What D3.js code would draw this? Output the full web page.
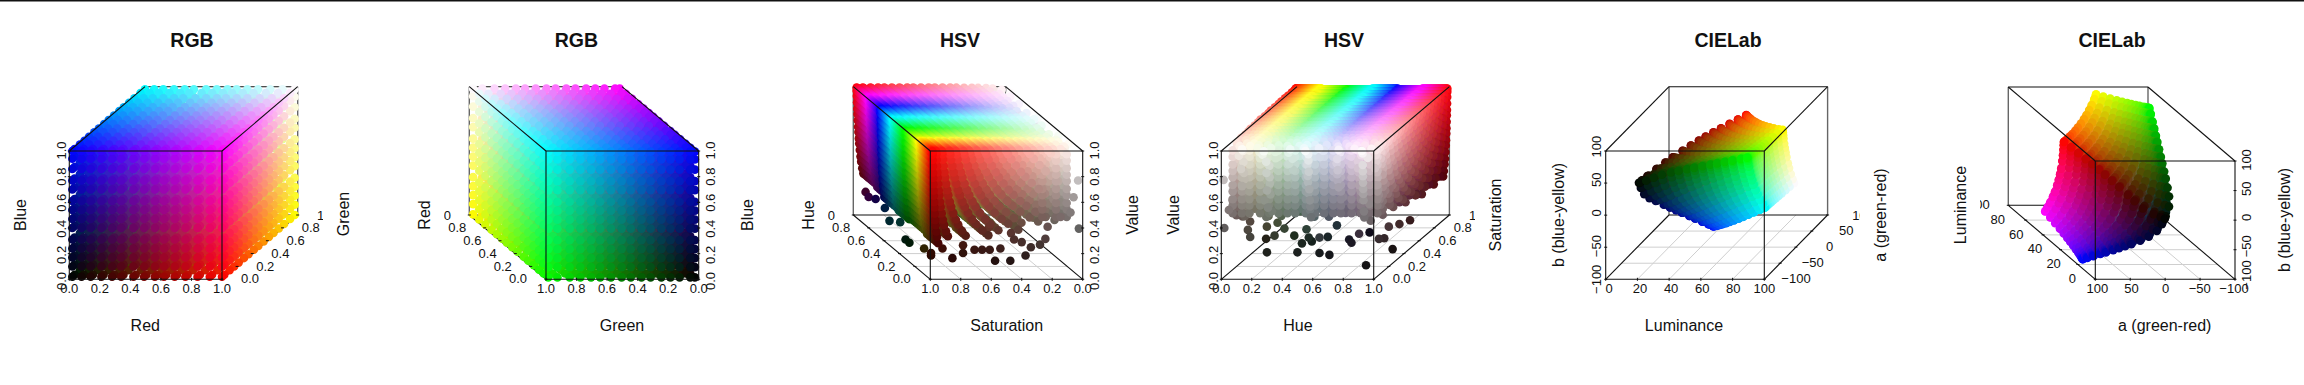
<!DOCTYPE html>
<html>
<head>
<meta charset="utf-8">
<script src="https://cdn.jsdelivr.net/npm/d3@7"></script>
<style>
html, body { margin: 0; padding: 0; background: #fff; overflow: hidden; }
text { font-family: "Liberation Sans", Arial, sans-serif; fill: #111; }
</style>
</head>
<body>
<div id="chart"></div>
<script>
// The packed dots of the reference can't be read one by one, so those clouds are
// estimates: every combination of these hand picked levels.
const reds = [0.01, 0.07, 0.13, 0.2, 0.27, 0.33, 0.41, 0.48, 0.55, 0.61, 0.68, 0.75, 0.83, 0.91, 0.99]
const greens = [0.02, 0.05, 0.12, 0.18, 0.24, 0.31, 0.37, 0.44, 0.5, 0.57, 0.64, 0.7, 0.77, 0.84, 0.92, 0.98]
const blues = [0.01, 0.09, 0.16, 0.23, 0.3, 0.39, 0.46, 0.53, 0.6, 0.69, 0.76, 0.85, 0.93, 0.99]

// finer levels for the HSV clouds, where the same colours spread out more
const fineReds = [0.01, 0.05, 0.1, 0.14, 0.19, 0.23, 0.28, 0.33, 0.37, 0.42, 0.46, 0.51, 0.56, 0.6, 0.65, 0.69, 0.74, 0.79, 0.83, 0.88, 0.93, 0.97, 0.995]
const fineGreens = [0.02, 0.06, 0.11, 0.16, 0.2, 0.25, 0.3, 0.35, 0.39, 0.44, 0.49, 0.53, 0.58, 0.63, 0.67, 0.72, 0.77, 0.81, 0.86, 0.9, 0.95, 0.985]
const fineBlues = [0.015, 0.04, 0.08, 0.13, 0.17, 0.22, 0.26, 0.31, 0.36, 0.4, 0.45, 0.5, 0.54, 0.59, 0.64, 0.68, 0.73, 0.78, 0.82, 0.87, 0.91, 0.96, 0.99]

// lowest value where the HSV cloud is still packed, at saturation 0 and 1
const packedFloor = [0.42, 0.27]

// pale tinted dots that fill the low saturation front of the HSV cloud
const paleHues = [0.03, 0.09, 0.14, 0.21, 0.27, 0.33, 0.39, 0.44, 0.51, 0.57, 0.63, 0.69, 0.74, 0.81, 0.87, 0.93, 0.98]
const paleSats = [0.09, 0.16, 0.25]
const paleVals = [0.47, 0.53, 0.58, 0.64, 0.69, 0.75, 0.8, 0.85, 0.91, 0.96]

// the sparse dark dots can be seen singly, read as [hue, saturation, value]
const darkDotsSatView = [
	[0.88, 0.98, 0.24], [0.8, 1, 0.24], [0.71, 1, 0.27], [0.59, 1, 0.26], [0.53, 1, 0.19], [0.49, 0.95, 0.2],
	[0.42, 0.95, 0.1], [0.37, 0.95, 0.1], [0.12, 0.98, 0.18], [0.03, 0.98, 0.17], [0.03, 0.98, 0.19], [0.02, 0.91, 0.23],
	[0.01, 0.85, 0.16], [0.03, 0.77, 0.19], [0.03, 0.77, 0.25], [0.02, 0.7, 0.22], [0.02, 0.65, 0.22], [0.02, 0.6, 0.22],
	[0.03, 0.6, 0.39], [0.01, 0.57, 0.14], [0.01, 0.47, 0.14], [0.01, 0.37, 0.18], [0.02, 0.53, 0.23], [0.02, 0.33, 0.24],
	[0.02, 0.27, 0.26], [0.01, 0.24, 0.31], [0.02, 0.22, 0.4], [0.01, 0.02, 0.39], [0.01, 0.14, 0.48], [0.02, 0.07, 0.51],
	[0.02, 0.05, 0.63], [0.02, 0.02, 0.76], [0.02, 0.46, 0.35], [0.02, 0.39, 0.28], [0.02, 0.44, 0.3]
]
const darkDotsHueView = [
	[0.0, 0.04, 0.38], [0.01, 0.08, 0.5], [0.02, 0.16, 0.42], [0.05, 0.18, 0.4], [0.09, 0.17, 0.3], [0.13, 0.12, 0.27],
	[0.12, 0.35, 0.14], [0.22, 0.16, 0.13], [0.24, 0.22, 0.23], [0.32, 0.32, 0.18], [0.4, 0.26, 0.15], [0.42, 0.16, 0.13],
	[0.43, 0.33, 0.13], [0.55, 0.19, 0.11], [0.62, 0.18, 0.1], [0.56, 0.17, 0.24], [0.53, 0.34, 0.16], [0.67, 0.34, 0.14],
	[0.71, 0.29, 0.14], [0.79, 0.23, 0.24], [0.71, 0.53, 0.1], [0.94, 0.19, 0.22], [0.95, 0.24, 0.2], [0.99, 0.27, 0.1],
	[0.92, 0.06, 0.08], [0.0, 0.03, 0.76], [0.01, 0.13, 0.55], [0.16, 0.28, 0.27], [0.29, 0.25, 0.27], [0.42, 0.28, 0.25],
	[0.56, 0.4, 0.22], [0.97, 0.26, 0.28], [0.99, 0.36, 0.25], [0.99, 0.5, 0.21], [0.23, 0.28, 0.3], [0.42, 0.31, 0.17],
	[0.07, 0.24, 0.33]
]

const unitTicks = [0, 0.2, 0.4, 0.6, 0.8, 1]
const lumTicks = [0, 20, 40, 60, 80, 100]
const labTicks = [-100, -50, 0, 50, 100]

const svgWidth = 2304
const svgHeight = 385

function toHsv(r, g, b){
	const max = Math.max(r, g, b)
	const c = max - Math.min(r, g, b)
	let h = 0
	if(c > 0){
		if(max === r) h = ((g - b) / c + 6) % 6
		else if(max === g) h = (b - r) / c + 2
		else h = (r - g) / c + 4
	}
	return { h: h / 6, s: max === 0 ? 0 : c / max, v: max }
}

function hsvColor(h, s, v){
	const f = n => {
		const k = (n + h * 6) % 6
		return (v - v * s * Math.max(0, Math.min(k, 4 - k, 1))) * 255
	}
	return d3.rgb(f(5), f(3), f(1)).formatHex()
}

// sRGB to Lab against D65, d3.lab adapts to D50 and lands a bit off the reference
function toLab(r, g, b){
	const lin = c => c <= 0.04045 ? c / 12.92 : Math.pow((c + 0.055) / 1.055, 2.4)
	const [R, G, B] = [lin(r), lin(g), lin(b)]
	const f = t => t > 0.008856 ? Math.cbrt(t) : 7.787 * t + 16 / 116
	const fx = f((0.4124 * R + 0.3576 * G + 0.1805 * B) / 0.9505)
	const fy = f(0.2126 * R + 0.7152 * G + 0.0722 * B)
	const fz = f((0.0193 * R + 0.1192 * G + 0.9505 * B) / 1.089)
	return { l: 116 * fy - 16, a: 500 * (fx - fy), b: 200 * (fy - fz) }
}

const rgbPoints = d3.cross(d3.cross(reds, greens), blues).map(([[r, g], b]) => ({
	r, g, b,
	color: d3.rgb(r * 255, g * 255, b * 255).formatHex(),
	lab: toLab(r, g, b)
}))

const hsvPoint = ([h, s, v]) => ({ h, s, v, color: hsvColor(h, s, v) })
const floorAt = d3.scaleLinear().domain([0, 1]).range(packedFloor)
const hsvCloud = d3.cross(d3.cross(fineReds, fineGreens), fineBlues)
	.map(([[r, g], b]) => toHsv(r, g, b))
	.filter(d => d.v >= floorAt(d.s))
	.map(d => [d.h, d.s, d.v])
	.concat(d3.cross(d3.cross(paleHues, paleSats), paleVals).map(([[h, s], v]) => [h, s, v]))

const unitFmt = d3.format(".1f")
const intFmt = d3.format("d")

const panels = [
	{ title: "RGB", cx: 192, pts: rgbPoints, x: d => d.r, y: d => d.g, z: d => d.b,
		xDom: [0, 1], yDom: [0, 1], zDom: [0, 1], xT: unitTicks, yT: unitTicks, zT: unitTicks, fx: unitFmt, fy: unitFmt, fz: unitFmt,
		box: [69.3, 222, 151, 279.3, 75.7, 64.3], xLab: [69.3, 222], zLab: [281, 150.5], zLabX: 61, zRight: false,
		yLab: [[250, 278.7], [326, 215]], clip: [0, 323],
		xName: ["Red", 145.3], yName: ["Green", 343, 214], zName: ["Blue", 20.7, 215] },
	{ title: "RGB", cx: 576.3, pts: rgbPoints, x: d => d.g, y: d => d.r, z: d => d.b,
		xDom: [1, 0], yDom: [0, 1], zDom: [0, 1], xT: unitTicks, yT: unitTicks, zT: unitTicks, fx: unitFmt, fy: unitFmt, fz: unitFmt,
		box: [546, 698.7, 151, 279.3, -76.7, 64.3], xLab: [546, 698.7], zLab: [281, 150.5], zLabX: 710, zRight: true,
		yLab: [[518, 278.7], [442, 215]], clip: [444, 800],
		xName: ["Green", 622], yName: ["Red", 424.3, 215], zName: ["Blue", 747, 215] },
	{ title: "HSV", cx: 960, pts: hsvCloud.concat(darkDotsSatView).map(hsvPoint), x: d => d.s, y: d => d.h, z: d => d.v,
		xDom: [1, 0], yDom: [0, 1], zDom: [0, 1], xT: unitTicks, yT: unitTicks, zT: unitTicks, fx: unitFmt, fy: unitFmt, fz: unitFmt,
		box: [930.3, 1082.7, 151, 279.3, -77, 64.3], xLab: [930.3, 1082.7], zLab: [281, 150.5], zLabX: 1094.3, zRight: true,
		yLab: [[901.7, 278.7], [826, 215]], clip: [828, 1200],
		xName: ["Saturation", 1006.7], yName: ["Hue", 808, 215], zName: ["Value", 1132, 215] },
	{ title: "HSV", cx: 1344, pts: hsvCloud.concat(darkDotsHueView).map(hsvPoint), x: d => d.h, y: d => d.s, z: d => d.v,
		xDom: [0, 1], yDom: [0, 1], zDom: [0, 1], xT: unitTicks, yT: unitTicks, zT: unitTicks, fx: unitFmt, fy: unitFmt, fz: unitFmt,
		box: [1221.3, 1373.7, 151, 279.3, 75.7, 64.3], xLab: [1221.3, 1373.7], zLab: [281, 150.5], zLabX: 1213.3, zRight: false,
		yLab: [[1401.7, 278.7], [1478, 215]], clip: [1170, 1475],
		xName: ["Hue", 1298], yName: ["Saturation", 1495, 215], zName: ["Value", 1173, 215] },
	{ title: "CIELab", cx: 1728, pts: rgbPoints, x: d => d.lab.l, y: d => d.lab.a, z: d => d.lab.b,
		xDom: [0, 100], yDom: [-100, 100], zDom: [-100, 100], xT: lumTicks, yT: labTicks, zT: labTicks, fx: intFmt, fy: intFmt, fz: intFmt,
		box: [1605.7, 1764.3, 151, 279.3, 63.3, 64.3], xLab: [1609, 1764.3], zLab: [279.3, 146.7], zLabX: 1596.7, zRight: false,
		yLab: [[1796, 278.7], [1863, 215]], clip: [1530, 1860],
		xName: ["Luminance", 1684], yName: ["a (green-red)", 1880, 215], zName: ["b (blue-yellow)", 1558.3, 215] },
	{ title: "CIELab", cx: 2112, pts: rgbPoints, x: d => d.lab.a, y: d => d.lab.l, z: d => d.lab.b,
		xDom: [100, -100], yDom: [0, 100], zDom: [-100, 100], xT: [100, 50, 0, -50, -100], yT: lumTicks, zT: labTicks, fx: intFmt, fy: intFmt, fz: intFmt,
		box: [2095.3, 2235, 161, 279.3, -87, 74], xLab: [2097.3, 2234], zLab: [275, 160], zLabX: 2246, zRight: true,
		yLab: [[2072.3, 278.7], [1979, 204.3]], clip: [1980, 2304],
		xName: ["a (green-red)", 2164.7], yName: ["Luminance", 1960, 205], zName: ["b (blue-yellow)", 2284, 220] }
]

const svg = d3.select("#chart")
	.append("svg")
	.attr("width", svgWidth)
	.attr("height", svgHeight)

svg.append("rect").attr("width", svgWidth).attr("height", 1.5).attr("fill", "#111")

function segs(g, data, cls, stroke, width){
	g.selectAll("line." + cls)
		.data(data)
		.enter().append("line")
		.attr("class", cls)
		.attr("x1", d => d[0][0])
		.attr("y1", d => d[0][1])
		.attr("x2", d => d[1][0])
		.attr("y2", d => d[1][1])
		.attr("stroke", stroke)
		.attr("stroke-width", width)
}

function rotated(g, str, x, y, size){
	g.append("text")
		.attr("transform", `translate(${x},${y}) rotate(-90)`)
		.attr("text-anchor", "middle")
		.attr("dy", "0.35em")
		.attr("font-size", size)
		.text(str)
}

panels.forEach((p, pi) => {
	const [x0, x1, top, bottom, dx, dy] = p.box
	const xScale = d3.scaleLinear().domain(p.xDom).range([x0, x1])
	const zScale = d3.scaleLinear().domain(p.zDom).range([bottom, top])
	const depth = d3.scaleLinear().domain(p.yDom).range([0, 1])
	const px = (x, y) => xScale(x) + depth(y) * dx
	const py = (y, z) => zScale(z) - depth(y) * dy

	const g = svg.append("g").attr("class", "panel")
	const [xa, xb] = p.xDom
	const [ya, yb] = p.yDom
	const [za, zb] = p.zDom

	// floor grid and back edges go under the dots
	const gridY = p.yT.slice(1, -1).map(v => [[px(xa, v), py(v, za)], [px(xb, v), py(v, za)]])
	const gridX = p.xT.slice(1, -1).map(v => [[px(v, ya), py(ya, za)], [px(v, yb), py(yb, za)]])
	segs(g, gridY.concat(gridX), "grid", "#cfcfcf", 1)
	segs(g, [
		[[px(xa, yb), py(yb, za)], [px(xa, yb), py(yb, zb)]],
		[[px(xb, yb), py(yb, za)], [px(xb, yb), py(yb, zb)]]
	], "backv", "#666", 1.4)
	segs(g, [
		[[px(xa, yb), py(yb, zb)], [px(xb, yb), py(yb, zb)]],
		[[px(xa, yb), py(yb, za)], [px(xb, yb), py(yb, za)]],
		[[px(xa, ya), py(ya, za)], [px(xa, yb), py(yb, za)]],
		[[px(xb, ya), py(ya, za)], [px(xb, yb), py(yb, za)]]
	], "back", "#111", 1.1)

	// far points first, nearer ones paint over them
	const sorted = p.pts.slice().sort((a, b) => depth(p.y(b)) - depth(p.y(a)))
	g.append("g").selectAll("circle")
		.data(sorted)
		.enter().append("circle")
		.attr("cx", d => px(p.x(d), p.y(d)))
		.attr("cy", d => py(p.y(d), p.z(d)))
		.attr("r", 4.3)
		.attr("fill", d => d.color)

	// front of the box on top
	segs(g, [
		[[x0, top], [x1, top]],
		[[x0, bottom], [x1, bottom]],
		[[x0, top], [x0, bottom]],
		[[x1, top], [x1, bottom]],
		[[px(xa, ya), py(ya, zb)], [px(xa, yb), py(yb, zb)]],
		[[px(xb, ya), py(ya, zb)], [px(xb, yb), py(yb, zb)]]
	], "front", "#111", 1.1)

	// ticks
	const zx = p.zRight ? x1 : x0
	segs(g, p.xT.map(v => [[xScale(v), bottom - 1.5], [xScale(v), bottom + 1.5]]), "tick", "#111", 1)
	segs(g, p.zT.map(v => [[zx - 1.5, zScale(v)], [zx + 1.5, zScale(v)]]), "ticz", "#111", 1)
	const depthSide = dx > 0 ? xb : xa
	segs(g, p.yT.map(v => [[px(depthSide, v) - 1.5, py(v, za)], [px(depthSide, v) + 1.5, py(v, za)]]), "ticy", "#111", 1)

	// tick labels: the reference places these a little off the ticks
	const xLabel = d3.scaleLinear().domain(p.xDom).range(p.xLab)
	const zLabel = d3.scaleLinear().domain(p.zDom).range(p.zLab)
	const yLabelX = d3.scaleLinear().domain(p.yDom).range([p.yLab[0][0], p.yLab[1][0]])
	const yLabelY = d3.scaleLinear().domain(p.yDom).range([p.yLab[0][1], p.yLab[1][1]])

	g.selectAll("text.xl")
		.data(p.xT)
		.enter().append("text")
		.attr("class", "xl")
		.attr("x", d => xLabel(d))
		.attr("y", 288.7)
		.attr("dy", "0.35em")
		.attr("text-anchor", "middle")
		.attr("font-size", 13)
		.text(p.fx)

	p.zT.forEach(v => rotated(g, p.fz(v), p.zLabX, zLabel(v), 13))

	svg.append("clipPath").attr("id", "clip" + pi)
		.append("rect")
		.attr("x", p.clip[0])
		.attr("y", 0)
		.attr("width", p.clip[1] - p.clip[0])
		.attr("height", svgHeight)
	g.append("g").attr("clip-path", `url(#clip${pi})`)
		.selectAll("text")
		.data(p.yT)
		.enter().append("text")
		.attr("x", d => yLabelX(d))
		.attr("y", d => yLabelY(d))
		.attr("dy", "0.35em")
		.attr("text-anchor", "middle")
		.attr("font-size", 13)
		.text(p.fy)

	// titles
	g.append("text")
		.attr("x", p.cx)
		.attr("y", 40)
		.attr("dy", "0.35em")
		.attr("text-anchor", "middle")
		.attr("font-size", 19.5)
		.attr("font-weight", "bold")
		.text(p.title)
	g.append("text")
		.attr("x", p.xName[1])
		.attr("y", 325)
		.attr("dy", "0.35em")
		.attr("text-anchor", "middle")
		.attr("font-size", 16)
		.text(p.xName[0])
	rotated(g, p.yName[0], p.yName[1], p.yName[2], 16)
	rotated(g, p.zName[0], p.zName[1], p.zName[2], 16)
})
</script>
</body>
</html>
